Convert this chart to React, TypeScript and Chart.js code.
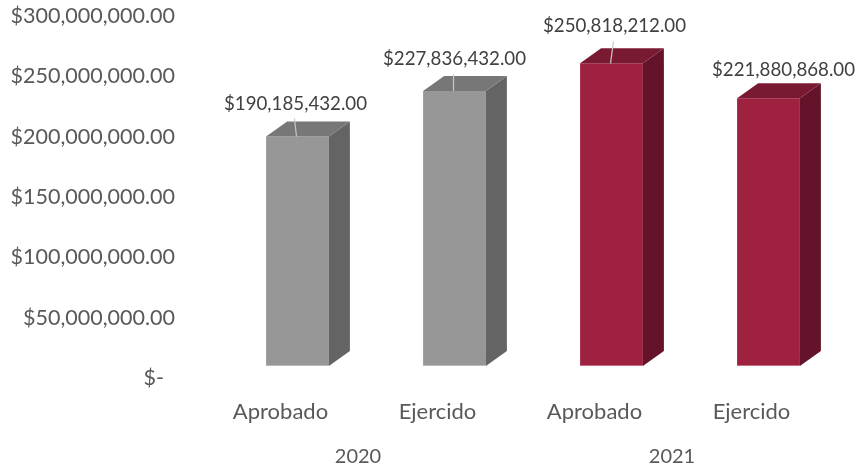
import React, { useEffect, useRef } from 'react';
import { Chart, registerables } from 'chart.js';

Chart.register(...registerables);

// ---- data ----
const categories = ['Aprobado', 'Ejercido', 'Aprobado', 'Ejercido'];
const years = ['2020', '2021'];
const amounts = [190185432, 227836432, 250818212, 221880868];
const yMin = 0;
const yMax = 300000000;
const yStep = 50000000;

// ---- styles ----
const FRONT = ['#979797', '#979797', '#9e2140', '#9e2140'];
const TOP = ['#777777', '#777777', '#7a1a32', '#7a1a32'];
const SIDE = ['#646464', '#646464', '#63142a', '#63142a'];
const DEPTH_X = 21;
const DEPTH_Y = -15;
// data label placement relative to the bar's front top centre (Excel auto-placement)
const LABEL_DX = [-2, 0, 3, 15];
const LABEL_DY = [-33, -32, -37, -28];
const LEADER = [true, true, true, false];

const FONT = 'Lato';
const AXIS_COLOR = '#595959';

const money = (v: number) =>
  '$' + v.toLocaleString('en-US', { minimumFractionDigits: 2, maximumFractionDigits: 2 });

const bar3d = {
  id: 'bar3d',
  afterDatasetsDraw(chart: any) {
    const ctx = chart.ctx as CanvasRenderingContext2D;
    const meta = chart.getDatasetMeta(0);
    meta.data.forEach((el: any, i: number) => {
      const { x, y, base, width } = el.getProps(['x', 'y', 'base', 'width'], true);
      const l = x - width / 2;
      const r = x + width / 2;
      ctx.save();
      // side face
      ctx.fillStyle = SIDE[i];
      ctx.beginPath();
      ctx.moveTo(r, y);
      ctx.lineTo(r + DEPTH_X, y + DEPTH_Y);
      ctx.lineTo(r + DEPTH_X, base + DEPTH_Y);
      ctx.lineTo(r, base);
      ctx.closePath();
      ctx.fill();
      // top face
      ctx.fillStyle = TOP[i];
      ctx.beginPath();
      ctx.moveTo(l, y);
      ctx.lineTo(l + DEPTH_X, y + DEPTH_Y);
      ctx.lineTo(r + DEPTH_X, y + DEPTH_Y);
      ctx.lineTo(r, y);
      ctx.closePath();
      ctx.fill();
      // faint light edge
      ctx.strokeStyle = 'rgba(255,255,255,0.35)';
      ctx.lineWidth = 1;
      ctx.beginPath();
      ctx.moveTo(l, base - 0.5);
      ctx.lineTo(r, base - 0.5);
      ctx.stroke();

      // data label
      const lx = x + LABEL_DX[i];
      const ly = y + LABEL_DY[i];
      if (LEADER[i]) {
        ctx.strokeStyle = '#c8c8c8';
        ctx.lineWidth = 1.2;
        ctx.beginPath();
        ctx.moveTo(lx - 1, ly + 15);
        ctx.lineTo(x - 1, y);
        ctx.stroke();
      }
      ctx.fillStyle = '#404040';
      ctx.font = `18.7px ${FONT}`;
      ctx.textAlign = 'center';
      ctx.textBaseline = 'middle';
      ctx.fillText(money(amounts[i]), lx, ly);
      ctx.restore();
    });
  },
};

export default function App() {
  const ref = useRef<HTMLCanvasElement | null>(null);

  useEffect(() => {
    if (!ref.current) return;
    const chart = new Chart(ref.current, {
      type: 'bar',
      data: {
        labels: categories,
        datasets: [
          {
            data: amounts,
            backgroundColor: FRONT,
            borderWidth: 0,
            barPercentage: 0.4,
            categoryPercentage: 1,
          },
        ],
      },
      options: {
        responsive: false,
        animation: false,
        layout: { padding: { top: 4, right: 11, left: 0, bottom: 0 } },
        plugins: { legend: { display: false }, tooltip: { enabled: false } },
        scales: {
          x: {
            type: 'category',
            position: 'bottom',
            weight: 0,
            grid: { display: false, drawTicks: false },
            border: { display: false },
            ticks: {
              color: AXIS_COLOR,
              font: { family: FONT, size: 22 },
              padding: 33,
              labelOffset: -17,
              maxRotation: 0,
              autoSkip: false,
            },
            afterFit: (s: any) => {
              s.height = 60;
            },
          },
          year: {
            type: 'category',
            position: 'bottom',
            weight: 1,
            labels: years,
            offset: true,
            grid: { display: false, drawTicks: false },
            border: { display: false },
            ticks: {
              color: AXIS_COLOR,
              font: { family: FONT, size: 20 },
              padding: 19,
              labelOffset: -18,
              maxRotation: 0,
            },
            afterFit: (s: any) => {
              s.height = 41;
            },
          },
          y: {
            min: yMin,
            max: yMax,
            grid: { display: false, drawTicks: false },
            border: { display: false },
            ticks: {
              stepSize: yStep,
              color: AXIS_COLOR,
              font: { family: FONT, size: 21.5 },
              padding: 44,
              labelOffset: 12,
              callback: (v: any) => (Number(v) === 0 ? '$-  ' : money(Number(v))),
            },
            afterFit: (s: any) => {
              s.width = 219;
              s.paddingTop = 0;
              s.paddingBottom = 0;
            },
          },
        },
      },
      plugins: [bar3d],
    });
    return () => chart.destroy();
  }, []);

  return (
    <div style={{ position: 'fixed', left: 0, top: 0, width: 858, height: 467, background: '#fff' }}>
      <canvas ref={ref} width={858} height={467} style={{ display: 'block' }} />
    </div>
  );
}
